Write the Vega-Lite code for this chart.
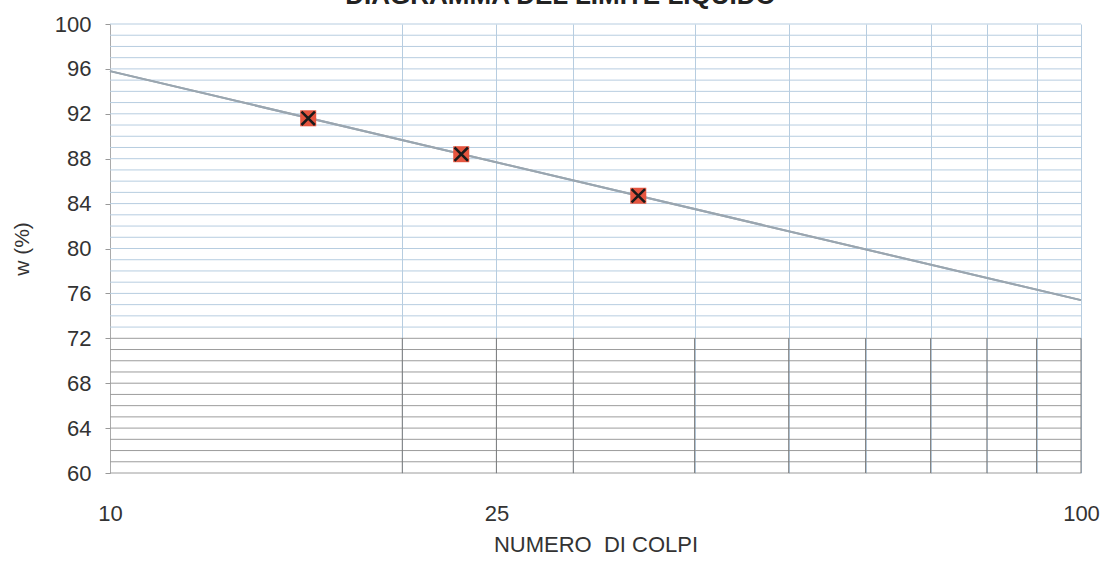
{
  "$schema": "https://vega.github.io/schema/vega-lite/v6.json",
  "autosize": "none",
  "width": 971,
  "height": 449,
  "padding": {"left": 110, "top": 24, "right": 24, "bottom": 99},
  "background": "white",
  "title": {
    "text": "DIAGRAMMA DEL LIMITE LIQUIDO",
    "font": "Liberation Sans",
    "fontSize": 26,
    "fontWeight": "bold",
    "color": "#222",
    "anchor": "middle",
    "frame": "group",
    "baseline": "alphabetic",
    "offset": 7,
    "dx": -35,
    "dy": 24
  },
  "config": {
    "view": {"stroke": null},
    "axis": {"labelFont": "Liberation Sans", "titleFont": "Liberation Sans", "labelColor": "#333", "titleColor": "#333"}
  },
  "datasets": {
    "trend": [
      {"colpi": 10, "w": 95.8},
      {"colpi": 100, "w": 75.4}
    ],
    "prove": [
      {"colpi": 16, "w": 91.6},
      {"colpi": 23, "w": 88.4},
      {"colpi": 35, "w": 84.7}
    ],
    "upperhgrid": [
      {"w": 73}, {"w": 74}, {"w": 75}, {"w": 76}, {"w": 77}, {"w": 78}, {"w": 79}, {"w": 80},
      {"w": 81}, {"w": 82}, {"w": 83}, {"w": 84}, {"w": 85}, {"w": 86}, {"w": 87}, {"w": 88},
      {"w": 89}, {"w": 90}, {"w": 91}, {"w": 92}, {"w": 93}, {"w": 94}, {"w": 95}, {"w": 96},
      {"w": 97}, {"w": 98}, {"w": 99}, {"w": 100}
    ],
    "lowerhgrid": [
      {"w": 60}, {"w": 61}, {"w": 62}, {"w": 63}, {"w": 64}, {"w": 65}, {"w": 66},
      {"w": 67}, {"w": 68}, {"w": 69}, {"w": 70}, {"w": 71}, {"w": 72}
    ],
    "lowervgrid": [
      {"colpi": 20, "y0": 60, "y1": 72},
      {"colpi": 25, "y0": 60, "y1": 72},
      {"colpi": 30, "y0": 60, "y1": 72},
      {"colpi": 40, "y0": 60, "y1": 72},
      {"colpi": 50, "y0": 60, "y1": 72},
      {"colpi": 60, "y0": 60, "y1": 72},
      {"colpi": 70, "y0": 60, "y1": 72},
      {"colpi": 80, "y0": 60, "y1": 72},
      {"colpi": 90, "y0": 60, "y1": 72},
      {"colpi": 100, "y0": 60, "y1": 72}
    ]
  },
  "layer": [
    {
      "data": {"name": "upperhgrid"},
      "mark": {"type": "rule", "color": "#b7cde0", "strokeWidth": 1},
      "encoding": {
        "y": {
          "field": "w", "type": "quantitative",
          "scale": {"domain": [60, 100], "nice": false, "zero": false},
          "axis": {
            "title": "w (%)",
            "titleFontSize": 21,
            "titleFontWeight": "normal",
            "titlePadding": 22,
            "values": [60, 64, 68, 72, 76, 80, 84, 88, 92, 96, 100],
            "labelFontSize": 22,
            "labelPadding": 14,
            "tickSize": 5,
            "tickColor": "#999",
            "domain": true,
            "domainColor": "#aaa",
            "grid": false
          }
        }
      }
    },
    {
      "data": {"name": "lowerhgrid"},
      "mark": {"type": "rule", "color": "#9c9c9c", "strokeWidth": 1},
      "encoding": {
        "y": {"field": "w", "type": "quantitative"}
      }
    },
    {
      "data": {"name": "trend"},
      "mark": {"type": "line", "color": "#9aa6b0", "strokeWidth": 2},
      "encoding": {
        "x": {
          "field": "colpi", "type": "quantitative",
          "scale": {"type": "log", "domain": [10, 100], "nice": false},
          "axis": {
            "title": "NUMERO\u00a0 DI COLPI",
            "titleFontSize": 22,
            "titleFontWeight": "normal",
            "titlePadding": 10,
            "values": [10, 20, 25, 30, 40, 50, 60, 70, 80, 90, 100],
            "labelExpr": "datum.value == 10 || datum.value == 25 || datum.value == 100 ? datum.label : ''",
            "labelFontSize": 22,
            "labelPadding": 30,
            "labelFlush": false,
            "labelOverlap": false,
            "ticks": false,
            "domain": false,
            "grid": true,
            "gridColor": "#b7cde0",
            "gridWidth": 1
          }
        },
        "y": {"field": "w", "type": "quantitative"}
      }
    },
    {
      "data": {"name": "lowervgrid"},
      "mark": {"type": "rule", "color": "#7a7a7a", "strokeWidth": 1},
      "encoding": {
        "x": {"field": "colpi", "type": "quantitative"},
        "y": {"field": "y0", "type": "quantitative"},
        "y2": {"field": "y1"}
      }
    },
    {
      "data": {"name": "trend"},
      "mark": {"type": "line", "color": "#9aa6b0", "strokeWidth": 2},
      "encoding": {
        "x": {"field": "colpi", "type": "quantitative"},
        "y": {"field": "w", "type": "quantitative"}
      }
    },
    {
      "data": {"name": "prove"},
      "mark": {"type": "point", "shape": "square", "filled": true, "size": 256, "color": "#e5553f", "opacity": 1},
      "encoding": {
        "x": {"field": "colpi", "type": "quantitative"},
        "y": {"field": "w", "type": "quantitative"}
      }
    },
    {
      "data": {"name": "prove"},
      "mark": {"type": "point", "shape": "M-1,-1L1,1M1,-1L-1,1", "filled": false, "size": 180, "color": "#1a1a1a", "strokeWidth": 2.5, "opacity": 1},
      "encoding": {
        "x": {"field": "colpi", "type": "quantitative"},
        "y": {"field": "w", "type": "quantitative"}
      }
    }
  ]
}
